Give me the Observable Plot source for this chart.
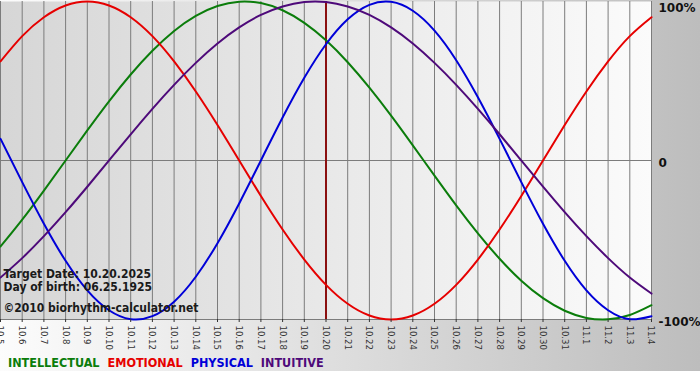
<!DOCTYPE html>
<html><head><meta charset="utf-8">
<script src="https://cdn.jsdelivr.net/npm/d3@7"></script>
<script src="https://cdn.jsdelivr.net/npm/@observablehq/plot@0.6"></script>
<style>
body{margin:0;background:#fff}
#wrap{width:700px;height:371px;background:linear-gradient(to right,#fcfcfc,#bdbdbd);position:relative;overflow:hidden}
#legend{position:absolute;left:8px;top:355px;line-height:14px;font:bold 12.5px "DejaVu Sans Condensed","DejaVu Sans",sans-serif;white-space:nowrap}
#legend span{margin-right:8px}
</style></head><body>
<div id="wrap"><div id="chart"></div><div id="legend"></div></div>
<script>
const days = ["10.5","10.6","10.7","10.8","10.9","10.10","10.11","10.12","10.13","10.14","10.15","10.16","10.17","10.18","10.19","10.20","10.21","10.22","10.23","10.24","10.25","10.26","10.27","10.28","10.29","10.30","10.31","11.1","11.2","11.3","11.4"];
const intellectual = [-0.541,-0.372,-0.189,0,0.189,0.372,0.541,0.690,0.815,0.910,0.972,0.999,0.990,0.945,0.866,0.756,0.618,0.458,0.282,0.095,-0.095,-0.282,-0.458,-0.618,-0.756,-0.866,-0.945,-0.990,-0.999,-0.972,-0.910];
const emotional = [0.623,0.782,0.901,0.975,1,0.975,0.901,0.782,0.623,0.434,0.223,0,-0.223,-0.434,-0.623,-0.782,-0.901,-0.975,-1,-0.975,-0.901,-0.782,-0.623,-0.434,-0.223,0,0.223,0.434,0.623,0.782,0.901];
const physical = [0.136,-0.136,-0.398,-0.631,-0.817,-0.942,-0.998,-0.979,-0.888,-0.731,-0.520,-0.270,0,0.270,0.520,0.731,0.888,0.979,0.998,0.942,0.817,0.631,0.398,0.136,-0.136,-0.398,-0.631,-0.817,-0.942,-0.998,-0.979];
const intuitive = [-0.736,-0.614,-0.476,-0.325,-0.165,0,0.165,0.325,0.476,0.614,0.736,0.837,0.916,0.969,0.997,0.997,0.969,0.916,0.837,0.736,0.614,0.476,0.325,0.165,0,-0.165,-0.325,-0.476,-0.614,-0.736,-0.837];
const seriesNames = ["INTELLECTUAL","EMOTIONAL","PHYSICAL","INTUITIVE"];
const seriesColors = ["#0b7d0b","#e60000","#0000d8","#4e0a7a"];
const targetDay = "10.20";
const notes = ["Target Date: 10.20.2025","Day of birth: 06.25.1925","©2010 biorhythm-calculator.net"];
const yTicks = [1,0,-1];
const yLabels = ["100%","0","-100%"];

const idx = days.map((d, i) => i);
const targetIdx = days.indexOf(targetDay);
const seriesValues = [intellectual, emotional, physical, intuitive];
const rows = [];
seriesNames.forEach((name, i) => {
  seriesValues[i].forEach((v, j) => rows.push({day: j, value: v, series: name, color: seriesColors[i]}));
});

const noteStyle = {frameAnchor:"top-left", textAnchor:"start", lineAnchor:"bottom", dx:3, fontWeight:"bold", fontSize:12, fill:"#1a1a1a", fontFamily:"'DejaVu Sans Condensed','DejaVu Sans',sans-serif"};

const chart = Plot.plot({
  width:700, height:348,
  marginLeft:0, marginRight:49, marginTop:1, marginBottom:29,
  style:{background:"transparent", overflow:"visible", fontFamily:"'DejaVu Sans Condensed','DejaVu Sans',sans-serif"},
  x:{domain:[0, days.length - 1]},
  y:{domain:[-1,1]},
  marks:[
    Plot.frame({fill:"url(#plotbg)"}),
    Plot.ruleX(idx.filter(i => i !== targetIdx), {stroke:"#7c7c7c", strokeWidth:1}),
    Plot.ruleY([0,-1], {stroke:"#7c7c7c", strokeWidth:1}),
    Plot.ruleX([targetIdx], {stroke:"#8b1010", strokeWidth:2}),
    Plot.line(rows, {x:"day", y:"value", z:"series", stroke:"color", curve:"natural", strokeWidth:2}),
    Plot.axisX(idx, {tickRotate:90, tickSize:3, tickPadding:3, fontSize:9.5, color:"#333", tickFormat: i => days[i], label:null}),
    Plot.axisY([1], {anchor:"right", tickSize:0, tickPadding:7, dy:7, tickFormat: v => yLabels[yTicks.indexOf(v)], fontWeight:"bold", fontSize:12, fontFamily:"'DejaVu Sans',sans-serif", color:"#111", label:null}),
    Plot.axisY([0,-1], {anchor:"right", tickSize:0, tickPadding:7, dy:3, tickFormat: v => yLabels[yTicks.indexOf(v)], fontWeight:"bold", fontSize:12, fontFamily:"'DejaVu Sans',sans-serif", color:"#111", label:null}),
    Plot.text([notes[0]], {...noteStyle, text: d => d, dy:276}),
    Plot.text([notes[1]], {...noteStyle, text: d => d, dy:289}),
    Plot.text([notes[2]], {...noteStyle, text: d => d, dy:310})
  ]
});
d3.select(chart).insert("defs", ":first-child").html('<linearGradient id="plotbg" x1="0" x2="1" y1="0" y2="0"><stop offset="0" stop-color="#d6d6d6"/><stop offset="1" stop-color="#fbfbfb"/></linearGradient>');
document.getElementById("chart").append(chart);

const legend = d3.select("#legend");
seriesNames.forEach((n, i) => legend.append("span").style("color", seriesColors[i]).text(n));
</script>
</body></html>
